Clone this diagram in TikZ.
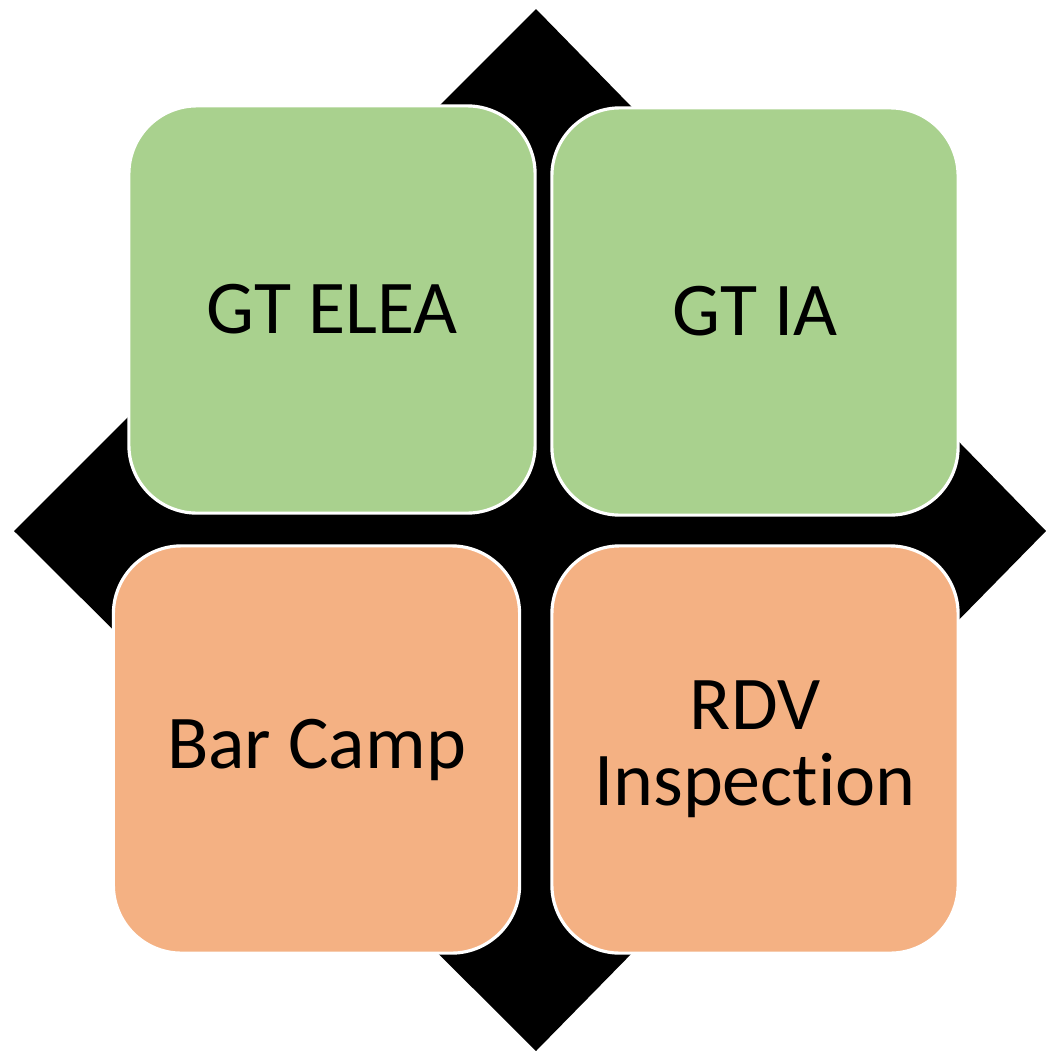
\documentclass[tikz,border=0pt]{standalone}
\usepackage{fontspec}
\setmainfont{Carlito}[Ligatures = NoCommon]
\usepackage{tikz}

\definecolor{boxgreen}{HTML}{A9D18E}
\definecolor{boxorange}{HTML}{F4B183}

\begin{document}
\begin{tikzpicture}[x = 0.01cm, y = -0.01cm,
    box/.style = {rectangle, draw = white, line width = 0.9pt, rounded corners = 0.68cm,
        minimum width = 4.06cm, minimum height = 4.07cm, inner sep = 0pt, align = center,
        font = \fontsize{21.6}{21.6}\selectfont}]
\useasboundingbox (0,0) rectangle (1046,1051);
\fill[black] (536,9) -- (1046,531) -- (536,1051) -- (14,531) -- cycle;
\draw (332,309.5) node[box, fill = boxgreen](a1){GT ELEA}
    (755,311.5) node[box, fill = boxgreen](a2){GT IA}
    (316.5,749.5) node[box, fill = boxorange](a3){Bar Camp}
    (755,749.5) node[box, fill = boxorange](a4){RDV\\Inspection};
\end{tikzpicture}
\end{document}
